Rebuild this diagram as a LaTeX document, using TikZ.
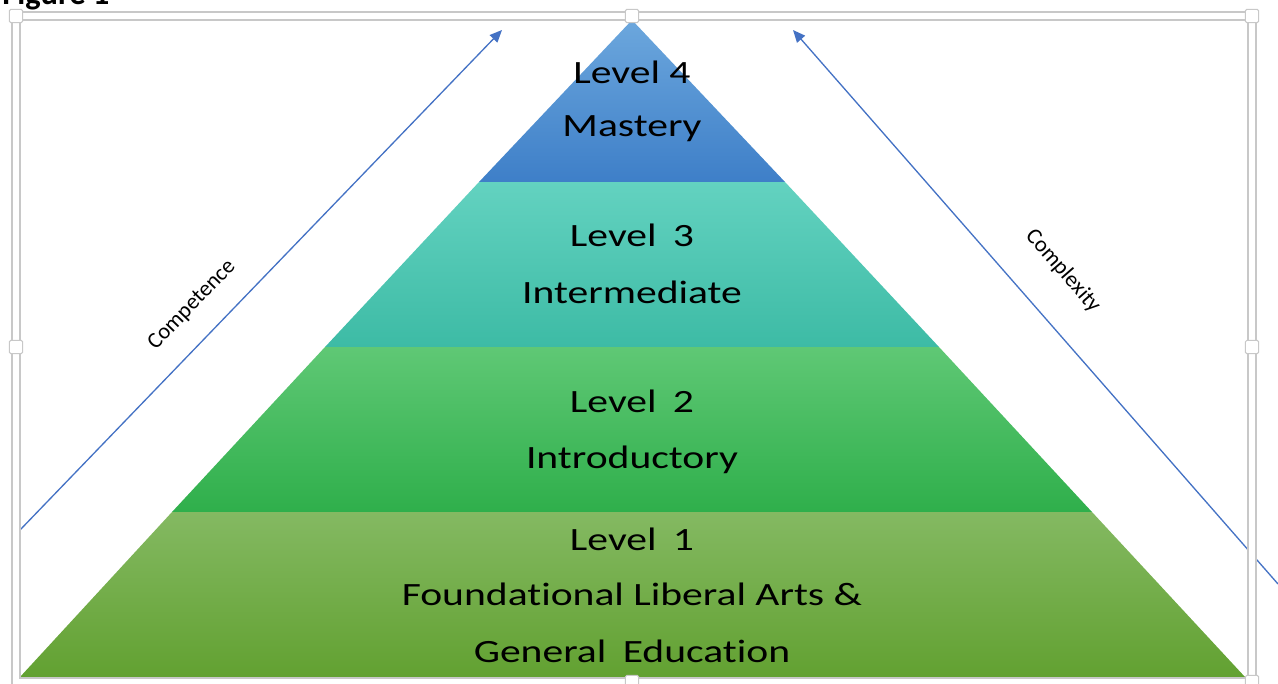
\documentclass[tikz,border=0pt]{standalone}
\usepackage{fontspec}
\setmainfont[Ligatures=NoCommon]{Carlito}
\usetikzlibrary{arrows.meta}
\definecolor{arrowblue}{HTML}{4472C4}
\definecolor{framegray}{HTML}{C8C8C8}
\definecolor{mastT}{HTML}{6CA7DD}
\definecolor{mastB}{HTML}{3E7FC8}
\definecolor{interT}{HTML}{63D2C0}
\definecolor{interB}{HTML}{3DBBA5}
\definecolor{introT}{HTML}{5FC875}
\definecolor{introB}{HTML}{2FAF4B}
\definecolor{foundT}{HTML}{84B962}
\definecolor{foundB}{HTML}{62A131}
\begin{document}
\begin{tikzpicture}[x=0.02cm, y=-0.02cm,
    level/.style={font=\fontsize{18.5}{20}\selectfont, xscale=1.28, anchor=base, inner sep=0pt},
    side/.style={font=\fontsize{12.8}{14}\selectfont, inner sep=0pt},
    trend/.style={arrowblue, line width=0.75pt, -{Triangle[length=7pt, width=6pt]}},
    handle/.style={draw=framegray, fill=white, line width=0.6pt, minimum size=7.5pt, inner sep=0pt, rounded corners=0.8pt}]
      \useasboundingbox (0,0) rectangle (1278,683);
      \node[anchor=base west, font=\bfseries\fontsize{18.5}{20}\selectfont, inner sep=0pt] (fig) at (2,4) {Figure 1};
      % pyramid layers
      \shade[top color=mastT, bottom color=mastB] (632,20) -- (785,182) -- (479,182) -- cycle;
      \shade[top color=interT, bottom color=interB] (479,182) -- (785,182) -- (939,347) -- (325,347) -- cycle;
      \shade[top color=introT, bottom color=introB] (325,347) -- (939,347) -- (1092,512) -- (172,512) -- cycle;
      \shade[top color=foundT, bottom color=foundB] (172,512) -- (1092,512) -- (1245,677) -- (20,677) -- cycle;
      % labels
      \node[level] (l4a) at (632,83) {Level 4};
      \node[level] (l4b) at (632,136) {Mastery};
      \node[level] (l3a) at (632,246) {Level\, 3};
      \node[level] (l3b) at (632,303) {Intermediate};
      \node[level] (l2a) at (632,412) {Level\, 2};
      \node[level] (l2b) at (632,468) {Introductory};
      \node[level] (l1a) at (632,550) {Level\, 1};
      \node[level] (l1b) at (632,605) {Foundational Liberal Arts \&};
      \node[level] (l1c) at (632,662) {General\, Education};
      % arrows
      \coordinate (compA) at (20,530);
      \coordinate (compB) at (502,30);
      \coordinate (cplxA) at (1278,584);
      \coordinate (cplxB) at (793,30);
      \draw[trend] (compA) -- (compB);
      \draw[trend] (cplxA) -- (cplxB);
      \node[side, rotate=46] (comp) at (192,305) {Competence};
      \node[side, rotate=-49] (cplx) at (1063,271) {Complexity};
      % frame
      \draw[framegray, line width=5.2pt] (16,16) rectangle (1252,682);
      \draw[white, line width=3.6pt] (16,16) rectangle (1252,682);
      \foreach \hx/\hy [count=\i] in {16/16, 632/16, 1252/16, 16/347, 1252/347, 632/682, 1252/682}
        \node[handle] (h\i) at (\hx,\hy) {};
\end{tikzpicture}
\end{document}
